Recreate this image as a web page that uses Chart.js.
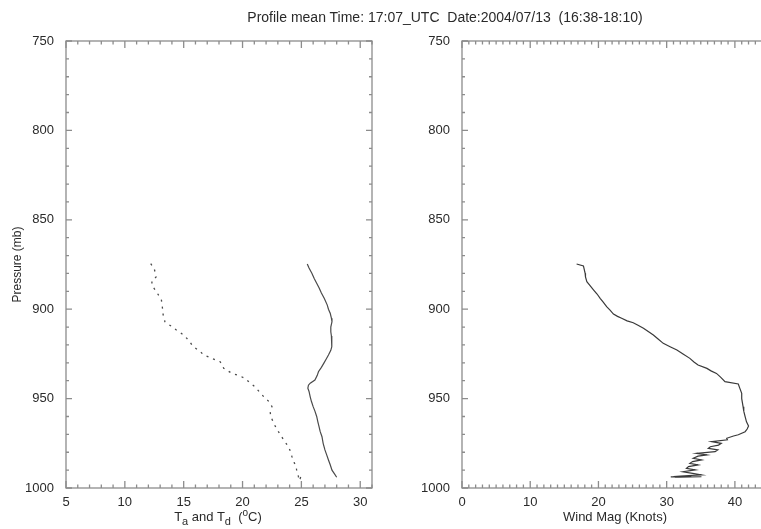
<!DOCTYPE html>
<html>
<head>
<meta charset="utf-8">
<script src="https://cdn.jsdelivr.net/npm/chart.js@4/dist/chart.umd.min.js"></script>
<style>
  html, body { margin: 0; padding: 0; background: #fff; overflow: hidden; width: 761px; height: 529px; }
  #wrap { position: relative; width: 761px; height: 529px; font-family: "Liberation Sans", Arial, sans-serif; color: #2a2a2a; }
  canvas { position: absolute; top: 0; }
  .lbl { position: absolute; white-space: pre; font-size: 13px; line-height: 15px; }
  .sb { position: relative; top: 4px; font-size: 11px; }
  .sp { position: relative; top: -5px; font-size: 10px; }
</style>
</head>
<body>
<div id="wrap">
  <canvas id="leftChart" width="400" height="529" style="left:0;width:400px;height:529px"></canvas>
  <canvas id="rightChart" width="380" height="529" style="left:400px;width:380px;height:529px"></canvas>
  <div class="lbl" id="mainTitle" style="left:445px;top:10px;font-size:14px;transform:translateX(-50%)">Profile mean Time: 17:07_UTC  Date:2004/07/13  (16:38-18:10)</div>
  <div class="lbl" id="leftXTitle" style="left:218px;top:509px;transform:translateX(-50%)">T<span class="sb">a</span> and T<span class="sb">d</span>  (<span class="sp">o</span>C)</div>
  <div class="lbl" id="rightXTitle" style="left:615px;top:509px;transform:translateX(-50%)">Wind Mag (Knots)</div>
</div>
<script>
    // *************************************************************
    // data
    // *************************************************************
    var pressureTicks = [750, 800, 850, 900, 950, 1000];

    // air temperature T_a (solid)
    var taPressure = [874.7, 877, 880, 883, 885.5, 888, 891, 894, 897.7, 900, 902.3, 905, 907, 910, 912.6, 915, 917, 919,
                      921, 923, 925.6, 928, 930.3, 932.5, 935, 937, 939.6, 941.4, 942.5, 944.2, 946, 949, 951.5, 954.5,
                      957, 960, 963, 965.7, 968.5, 971.3, 975, 978.7, 981.5, 984.3, 987, 990, 992, 994];
    var taTemp     = [25.5, 25.65, 25.9, 26.1, 26.3, 26.5, 26.7, 26.95, 27.2, 27.3, 27.45, 27.55, 27.6, 27.5, 27.5, 27.55, 27.6, 27.55,
                      27.6, 27.5, 27.3, 27.1, 26.9, 26.7, 26.45, 26.35, 26.15, 25.75, 25.6, 25.55, 25.65, 25.75, 25.85, 26.0,
                      26.15, 26.3, 26.4, 26.5, 26.6, 26.75, 26.85, 27.0, 27.15, 27.3, 27.45, 27.6, 27.8, 28.0];

    // dew point T_d (dotted)
    var tdPressure = [874.5, 876, 877.5, 880, 882, 884, 886.5, 888.5, 890.5, 892.5, 894.5, 897, 899.5, 901, 903, 905, 907,
                      909.8, 911.5, 913, 914.5, 916.2, 918, 920, 921.5, 922.8, 924, 925.6, 926.5, 927.5, 929.4, 931, 933,
                      935.9, 937, 938.6, 941, 943.3, 946, 948.9, 952, 954.5, 956, 957.5, 960, 963, 965.7, 968, 970, 973.2,
                      976.9, 980, 982.5, 984.3, 986, 987, 989.9, 992, 993.7, 992.7, 994.6, 993.5];
    var tdTemp     = [12.2, 12.35, 12.5, 12.6, 12.65, 12.3, 12.3, 12.5, 12.7, 12.9, 13.1, 13.15, 13.2, 13.25, 13.25, 13.35, 13.4,
                      14.0, 14.35, 14.7, 15.0, 15.25, 15.5, 15.7, 15.95, 16.2, 16.45, 16.7, 17.05, 17.4, 18.1, 18.25, 18.4,
                      19.1, 19.65, 20.2, 20.6, 21.05, 21.4, 21.8, 22.3, 22.5, 22.45, 22.35, 22.4, 22.6, 22.8, 23.0, 23.2, 23.5,
                      23.9, 24.1, 24.2, 24.35, 24.4, 24.5, 24.6, 24.7, 24.75, 25.0, 24.9, 24.7];

    // wind magnitude (knots)
    var windPressure = [874.7, 875.8, 877.5, 879.9, 882, 884.6, 887, 889.3, 891.5, 893.9, 896, 898.6, 900.5, 902.7, 904, 905.1,
                        906.5, 907.6, 909, 910.7, 912.5, 914.4, 916.5, 919.1, 921, 922.8, 925, 927.5, 929.5, 931.2, 933.1,
                        934.5, 935.9, 938, 940.5, 941.8, 944, 947, 950, 954.5, 957, 960.1, 963, 965.3, 967, 968.5, 970.2,
                        970.9, 972.2, 973, 974.1, 975, 976, 976.9, 977.8, 978.7, 979.7, 980.6, 981.5, 982.2, 983.4, 984.3,
                        985.2, 986.2, 987.1, 988, 989, 989.9, 990.9, 991.8, 992.7, 993.3, 993.6, 993.2, 993.8, 993.4, 994,
                        993.5, 993.9, 993.7];
    var windSpeed    = [16.8, 17.8, 17.9, 18.05, 18.1, 18.3, 18.8, 19.3, 19.8, 20.25, 20.7, 21.2, 21.7, 22.2, 22.8, 23.4,
                        24.2, 25.1, 25.8, 26.6, 27.3, 28.05, 28.7, 29.5, 30.5, 31.5, 32.4, 33.4, 34.0, 34.6, 35.9,
                        36.5, 37.3, 37.9, 38.55, 40.5, 40.7, 41.0, 41.0, 41.2, 41.3, 41.5, 41.7, 42.0, 41.8, 41.5, 40.5,
                        39.8, 38.8, 38.9, 36.6, 38.0, 37.6, 36.4, 36.1, 37.5, 37.1, 34.4, 35.9, 34.6, 33.9, 35.1,
                        33.8, 33.4, 34.6, 33.2, 32.9, 34.2, 32.4, 33.8, 35.1, 32.0, 31.0, 33.4, 30.6, 32.8, 31.2,
                        33.6, 31.8, 35.1];

    function toPoints(xs, ps) {
        var pts = [];
        xs.forEach( (item, index) => { pts.push({x: item, y: ps[index]}); });
        return pts;
    }

    Chart.defaults.font.family = '"Liberation Sans", Arial, sans-serif';
    Chart.defaults.font.size = 13;
    Chart.defaults.color = '#2a2a2a';

    // IDL style box : border on 4 sides, major + minor ticks pointing inward
    var boxTicks = {
        id: 'boxTicks',
        afterDraw(chart, args, opts) {
            var ctx = chart.ctx, a = chart.chartArea;
            var xs = chart.scales.x, ys = chart.scales.y;
            ctx.save();
            ctx.strokeStyle = '#8c8c8c';
            ctx.lineWidth = 1.3;
            ctx.strokeRect(a.left, a.top, a.right - a.left, a.bottom - a.top);
            ctx.beginPath();
            var n = Math.round((xs.max - xs.min) / opts.xMinor);
            for (var i = 0; i <= n; i++) {
                var v = xs.min + i * opts.xMinor;
                var major = Math.abs(v / opts.xMajor - Math.round(v / opts.xMajor)) < 1e-6;
                var len = major ? 7 : 3.5;
                var px = xs.getPixelForValue(v);
                ctx.moveTo(px, a.bottom); ctx.lineTo(px, a.bottom - len);
                ctx.moveTo(px, a.top);    ctx.lineTo(px, a.top + len);
            }
            n = Math.round((ys.max - ys.min) / opts.yMinor);
            for (var j = 0; j <= n; j++) {
                var w = ys.min + j * opts.yMinor;
                var majorY = Math.abs(w / opts.yMajor - Math.round(w / opts.yMajor)) < 1e-6;
                var lenY = majorY ? 6 : 3;
                var py = ys.getPixelForValue(w);
                ctx.moveTo(a.left, py);  ctx.lineTo(a.left + lenY, py);
                ctx.moveTo(a.right, py); ctx.lineTo(a.right - lenY, py);
            }
            ctx.stroke();
            ctx.restore();
        }
    };

    function pressureAxis(width, withTitle) {
        return {
            type: 'linear', reverse: true, min: 750, max: 1000,
            grid: { display: false }, border: { display: false },
            afterBuildTicks: (scale) => { scale.ticks = pressureTicks.map(v => ({value: v})); },
            ticks: { padding: 4, color: '#2a2a2a', callback: (v) => String(v) },
            title: { display: withTitle, text: 'Pressure (mb)', padding: { top: 10, bottom: 0 }, font: { size: 12 }, color: '#2a2a2a' },
            afterFit: (scale) => { scale.width = width; }
        };
    }

    var leftChart = new Chart(document.getElementById("leftChart"), {
        type: 'line',
        data: {
            datasets: [{
                label: 'Ta',
                data: toPoints(taTemp, taPressure),
                borderColor: '#4a4a4a', borderWidth: 1.2, pointRadius: 0, tension: 0, fill: false
            }, {
                label: 'Td',
                data: toPoints(tdTemp, tdPressure),
                borderColor: '#4a4a4a', borderWidth: 1.3, borderDash: [2, 5], pointRadius: 0, tension: 0, fill: false
            }]
        },
        options: {
            responsive: false, animation: false,
            layout: { padding: { top: 41, right: 28, left: 0, bottom: 0 } },
            plugins: { legend: { display: false }, tooltip: { enabled: false },
                       boxTicks: { xMinor: 1, xMajor: 5, yMinor: 10, yMajor: 50 } },
            scales: {
                x: {
                    type: 'linear', min: 5, max: 31,
                    grid: { display: false }, border: { display: false },
                    ticks: { stepSize: 5, includeBounds: false, padding: -1, maxRotation: 0, color: '#2a2a2a' },
                    afterFit: (scale) => { scale.height = 41; }
                },
                y: pressureAxis(66, true)
            }
        },
        plugins: [boxTicks]
    });

    var rightChart = new Chart(document.getElementById("rightChart"), {
        type: 'line',
        data: {
            datasets: [{
                label: 'Wind',
                data: toPoints(windSpeed, windPressure),
                borderColor: '#3a3a3a', borderWidth: 1.2, pointRadius: 0, tension: 0, fill: false
            }]
        },
        options: {
            responsive: false, animation: false,
            layout: { padding: { top: 41, right: 11, left: 0, bottom: 0 } },
            plugins: { legend: { display: false }, tooltip: { enabled: false },
                       boxTicks: { xMinor: 1, xMajor: 10, yMinor: 10, yMajor: 50 } },
            scales: {
                x: {
                    type: 'linear', min: 0, max: 45,
                    grid: { display: false }, border: { display: false },
                    ticks: { stepSize: 10, includeBounds: false, padding: -1, maxRotation: 0, color: '#2a2a2a' },
                    afterFit: (scale) => { scale.height = 41; }
                },
                y: pressureAxis(62, false)
            }
        },
        plugins: [boxTicks]
    });
</script>
</body>
</html>
